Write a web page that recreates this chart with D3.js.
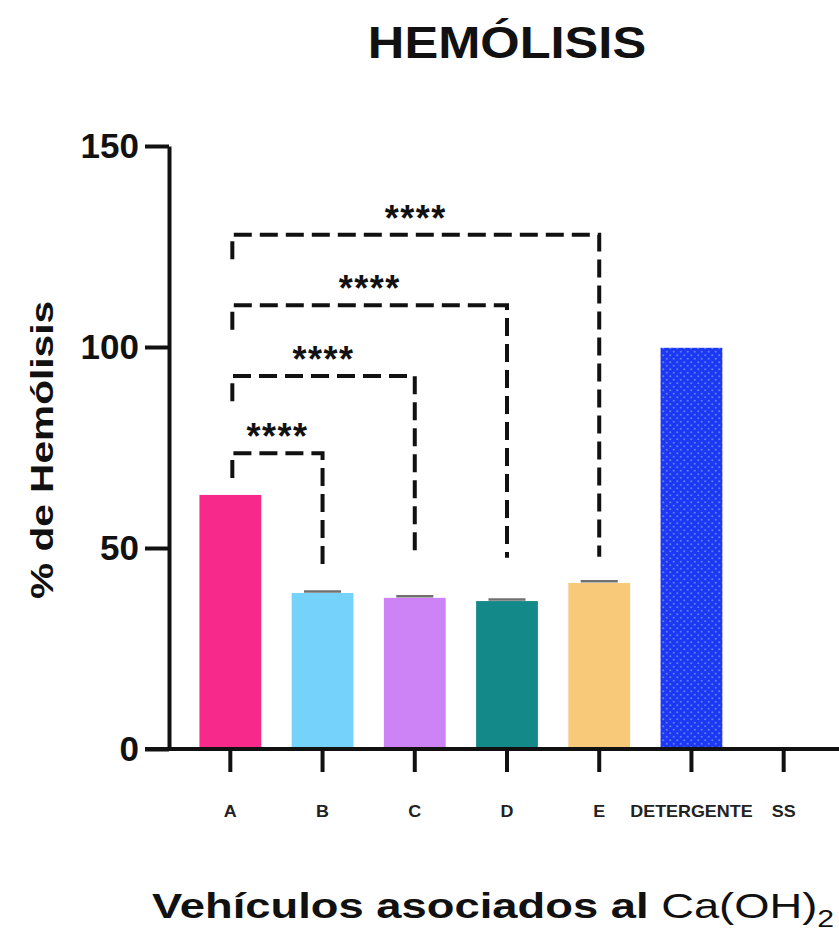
<!DOCTYPE html>
<html><head><meta charset="utf-8">
<script src="https://cdn.jsdelivr.net/npm/d3@7"></script>
<style>body{margin:0;background:#fff}svg{display:block}text{font-family:"Liberation Sans",Arial,sans-serif}</style>
</head><body><svg id="c" width="839" height="936"></svg>
<script>
const categories = ["A","B","C","D","E","DETERGENTE","SS"];
const values = [63.2, 38.8, 37.6, 36.8, 41.3, 99.8, 0];
const errors = [0, 0.4, 0.4, 0.4, 0.4, 0, 0];
const colors = ["#f72a8c","#75d2fa","#cd82f6","#14898a","#f7c978","#1c38f2","#ffffff"];
const yTicks = [0, 50, 100, 150];
// comparisons: from, to, bracket height, left leg end, right leg end, label
const compFrom = ["A","A","A","A"];
const compTo = ["B","C","D","E"];
const compY = [73.6, 92.8, 110.4, 127.9];
const compLeftEnd = [67.4, 86.5, 104.3, 121.8];
const compRightEnd = [44.2, 47.6, 47.6, 47.8];
const compLabel = ["****","****","****","****"];

const svg = d3.select("#c");
const y = d3.scaleLinear().domain([0,150]).range([749,146]);
const x = d3.scaleBand().domain(categories).range([169,845]).paddingInner(0.33).paddingOuter(0.33);

const defs = svg.append("defs");
const pat = defs.append("pattern").attr("id","dots").attr("patternUnits","userSpaceOnUse").attr("width",7).attr("height",7);
pat.append("rect").attr("width",7).attr("height",7).attr("fill","#1c38f2");
pat.append("circle").attr("cx",1.75).attr("cy",1.75).attr("r",1.1).attr("fill","#5b7cf7");
pat.append("circle").attr("cx",5.25).attr("cy",5.25).attr("r",1.1).attr("fill","#5b7cf7");

svg.append("g").selectAll("rect").data(categories).join("rect")
  .attr("x", d=>x(d)).attr("width", x.bandwidth())
  .attr("y", (d,i)=>y(values[i])).attr("height",(d,i)=>y(0)-y(values[i]))
  .attr("fill",(d,i)=> d==="DETERGENTE" ? "url(#dots)" : colors[i]);

svg.append("g").selectAll("line").data(categories.filter((d,i)=>errors[i]>0)).join("line")
  .each(function(d){
    const i = categories.indexOf(d);
    const cx = x(d)+x.bandwidth()/2;
    d3.select(this).attr("x1",cx-x.bandwidth()*0.3).attr("x2",cx+x.bandwidth()*0.3)
      .attr("y1",y(values[i]+errors[i])).attr("y2",y(values[i]+errors[i]))
      .attr("stroke","#333").attr("stroke-width",2.5).attr("stroke-opacity",0.7);
  });

// y axis
const yAxis = svg.append("g").attr("transform","translate(169,0)")
  .call(d3.axisLeft(y).tickValues(yTicks).tickSize(24).tickPadding(6).tickSizeOuter(0));
yAxis.select(".domain").attr("stroke","#111").attr("stroke-width",4);
yAxis.selectAll(".tick line").attr("stroke","#111").attr("stroke-width",4);
yAxis.selectAll(".tick text").attr("font-size",35).attr("font-weight","bold").attr("fill","#111")
  .attr("font-family","Liberation Sans, Arial, sans-serif");

// x axis
const xAxis = svg.append("g").attr("transform","translate(0,749)")
  .call(d3.axisBottom(x).tickSize(23).tickPadding(40).tickSizeOuter(0));
xAxis.select(".domain").attr("d","M145,0H839").attr("stroke","#111").attr("stroke-width",4);
xAxis.selectAll(".tick line").attr("stroke","#111").attr("stroke-width",4);
xAxis.selectAll(".tick text").attr("font-size",16).attr("font-weight","bold").attr("fill","#222")
  .attr("dy",null).attr("y",68).attr("transform","scale(1.12,1)")
  .attr("font-family","Liberation Sans, Arial, sans-serif");

// significance brackets
const gb = svg.append("g").attr("fill","none").attr("stroke","#111").attr("stroke-width",4).attr("stroke-dasharray","18,8");
compFrom.forEach((f,i)=>{
  const x1 = x(f)+x.bandwidth()/2+2, x2 = x(compTo[i])+x.bandwidth()/2;
  gb.append("path").attr("d",`M${x1},${y(compLeftEnd[i])}V${y(compY[i])}H${x2}V${y(compRightEnd[i])}`);
  svg.append("text").attr("x",(x1+x2)/2).attr("y",y(compY[i])-4).attr("text-anchor","middle")
    .attr("font-size",36).attr("font-weight","bold").attr("letter-spacing",1.5).attr("fill","#111").text(compLabel[i]);
});

// title
svg.append("g").attr("transform","translate(507,58) scale(1.15,1)")
  .append("text").attr("text-anchor","middle").attr("font-size",44)
  .attr("font-weight","bold").attr("fill","#111").text("HEMÓLISIS");

// y label
svg.append("g").attr("transform","translate(53,450) rotate(-90) scale(1.27,1)")
  .append("text").attr("text-anchor","middle")
  .attr("font-size",32).attr("font-weight","bold").attr("fill","#111").text("% de Hemólisis");

// x title
const xt = svg.append("g").attr("transform","translate(152,918) scale(1.26,1)")
  .append("text").attr("font-size",36).attr("fill","#111");
xt.append("tspan").attr("font-weight","bold").text("Vehículos asociados al ");
xt.append("tspan").text("Ca(OH)");
xt.append("tspan").attr("font-size",24).attr("dy",9).text("2");
</script></body></html>
